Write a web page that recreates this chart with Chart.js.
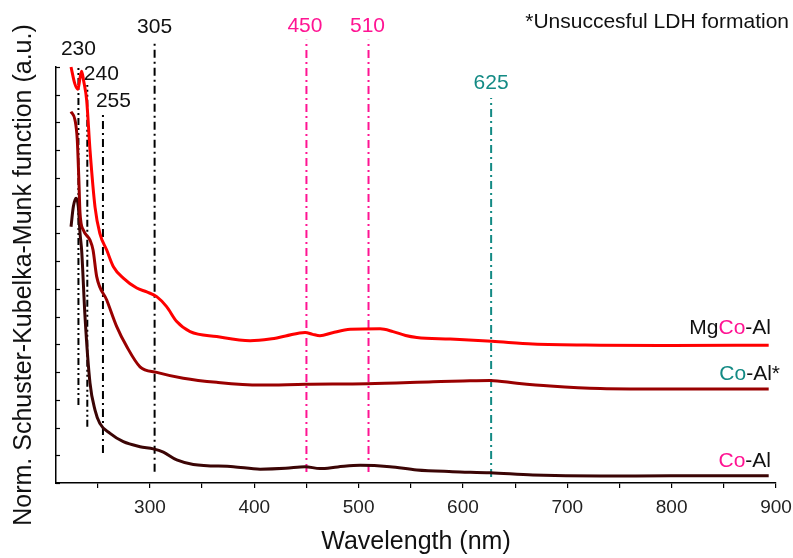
<!DOCTYPE html>
<html><head><meta charset="utf-8">
<script src="https://cdn.jsdelivr.net/npm/chart.js@4.4.1/dist/chart.umd.min.js"></script>
<style>html,body{margin:0;padding:0;background:#fff}#wrap{width:793px;height:558px}</style>
</head><body><div id="wrap"><canvas id="c" width="793" height="558"></canvas></div>
<script>
// ---- data ----
const wlMgCoAl = [224.4,228,231,233,234.6,236.5,239.4,242.6,247.4,252,258.6,265,274.5,287.4,297,306.5,316,325.7,338.5,364,396,415,430,448.7,456,463,475,492,520.6,533,545,555.8,587.8,627.7,667,731.6,800,893];
const valMgCoAl = [15.0,14.4,14.2,14.6,14.85,14.5,13.8,12.0,9.95,9.0,8.4,7.8,7.39,7.03,6.89,6.72,6.36,5.82,5.46,5.28,5.13,5.19,5.30,5.43,5.36,5.31,5.42,5.54,5.56,5.46,5.32,5.25,5.19,5.11,5.01,4.97,4.96,4.97];

const wlCoAlStar = [224.4,228.2,230.4,231.8,233,236.2,242.6,245.5,249,258.6,268.2,277.8,290.5,306.5,332,364,405.6,449,508,571.5,600,626,651.7,683.6,731.6,800,893];
const valCoAlStar = [13.39,13.09,12.37,11.05,9.74,9.12,8.76,8.4,7.44,6.6,5.64,4.92,4.19,3.99,3.78,3.63,3.53,3.56,3.58,3.65,3.68,3.70,3.60,3.50,3.41,3.39,3.39];

const wlCoAl = [224.4,226.6,229.2,231.4,233,234.6,237.8,242.6,247.4,252,261.8,274.5,290.5,303.3,312.9,325.7,341.6,380,405.6,430,448.7,463,480,501.5,530,555.8,590,626,667,731.6,800,893];
const valCoAl = [9.24,9.96,10.27,9.96,9.02,8.38,6.0,3.6,2.63,2.15,1.79,1.49,1.31,1.23,1.11,0.83,0.67,0.59,0.50,0.53,0.59,0.52,0.58,0.64,0.59,0.47,0.41,0.37,0.29,0.25,0.26,0.26];

const markerLabels = ['230','240','255','305','450','510','625'];
const markerX = [231.5,240,255,304.5,450,509.5,627];
const markerTop = [15.07,14.35,13.34,15.98,15.98,15.98,13.88];
const markerBottom = [2.81,2.03,1.08,0.41,0.40,0.40,0.22];
const markerLabelY = [15.65,14.75,13.75,16.44,16.47,16.47,14.42];

const xTickValues = [250,300,350,400,450,500,550,600,650,700,750,800,850,900];
const yTickValues = [0,1,2,3,4,5,6,7,8,9,10,11,12,13,14,15];

const seriesNames = ['MgCo-Al','Co-Al*','Co-Al'];
const seriesLabelY = [5.58,3.94,0.79];

// ---- styles ----
const FONT = "'Liberation Sans', Arial, sans-serif";
const PINK = '#ff1493', TEAL = '#138a84';
const curveColors = ['#ff0000','#990000','#3b0505'];
const markerColors = ['#000','#000','#000','#000',PINK,PINK,TEAL];
const markerDash = [[7,3,2,3,2,3],[7,3,2,3,2,3],[8,4,2,4],[8,4,2,4],[8,4,2,4],[8,4,2,4],[8,4,2,4]];
const markerLabelDx = [0,14,10.5,0,-1.5,-1,0];
const seriesLabelParts = [
  [['Mg','#111'],['Co',PINK],['-Al','#111']],
  [['Co',TEAL],['-Al*','#111']],
  [['Co',PINK],['-Al','#111']]
];
const seriesLabelRight = [771,780,771];

const toPts = (xs, ys) => xs.map((x,i)=>({x:x,y:ys[i]}));
const datasets = [];
[[wlMgCoAl,valMgCoAl],[wlCoAlStar,valCoAlStar],[wlCoAl,valCoAl]].forEach((s,i)=>{
  datasets.push({data:toPts(s[0],s[1]),borderColor:curveColors[i],borderWidth:3,pointRadius:0,
    cubicInterpolationMode:'monotone',tension:0.4,clip:false,fill:false});
});
markerX.forEach((x,i)=>{
  datasets.push({data:[{x:x,y:markerBottom[i]},{x:x,y:markerTop[i]}],borderColor:markerColors[i],
    borderWidth:2,borderDash:markerDash[i],pointRadius:0,clip:false,fill:false});
});

const annot = {
  id:'annot',
  afterDraw(chart){
    const ctx = chart.ctx, xs = chart.scales.x, ys = chart.scales.y;
    ctx.save();
    ctx.strokeStyle = '#000'; ctx.lineWidth = 1.2;
    yTickValues.forEach(v=>{
      const py = Math.round(ys.getPixelForValue(v))+0.5;
      ctx.beginPath(); ctx.moveTo(xs.left, py); ctx.lineTo(xs.left+4, py); ctx.stroke();
    });
    ctx.font = '21px ' + FONT; ctx.textAlign = 'center'; ctx.textBaseline = 'middle';
    markerLabels.forEach((t,i)=>{
      ctx.fillStyle = markerColors[i] === '#000' ? '#111' : markerColors[i];
      ctx.fillText(t, xs.getPixelForValue(markerX[i]) + markerLabelDx[i], ys.getPixelForValue(markerLabelY[i]));
    });
    ctx.textAlign = 'left';
    seriesLabelParts.forEach((parts,i)=>{
      const total = parts.reduce((a,p)=>a+ctx.measureText(p[0]).width,0);
      let x = seriesLabelRight[i] - total;
      const y = ys.getPixelForValue(seriesLabelY[i]);
      parts.forEach(p=>{ ctx.fillStyle = p[1]; ctx.fillText(p[0], x, y); x += ctx.measureText(p[0]).width; });
    });
    ctx.textAlign = 'right'; ctx.fillStyle = '#111';
    ctx.fillText('*Unsuccesful LDH formation', chart.width - 4, 22);
    ctx.restore();
  }
};

new Chart(document.getElementById('c'), {
  type:'line',
  data:{datasets:datasets},
  options:{
    responsive:false, animation:false, devicePixelRatio:1,
    layout:{padding:{left:0,right:17,top:67,bottom:0}},
    plugins:{legend:{display:false},tooltip:{enabled:false}},
    scales:{
      x:{type:'linear',min:210,max:900,
        afterBuildTicks:s=>{s.ticks = xTickValues.map(v=>({value:v}));},
        afterFit:s=>{s.height = 75; s.paddingLeft = 0; s.paddingRight = 0;},
        ticks:{autoSkip:false,maxRotation:0,padding:8,color:'#222',font:{size:19,family:FONT},
          callback:v=> v % 100 === 0 ? String(v) : ''},
        grid:{display:true,drawOnChartArea:false,drawTicks:true,tickLength:5,color:'#000',lineWidth:1.2},
        border:{display:true,color:'#000',width:1.5},
        title:{display:true,text:'Wavelength (nm)',color:'#111',font:{size:25,family:FONT},padding:{top:0,bottom:1}}
      },
      y:{type:'linear',min:0,max:15,
        afterFit:s=>{s.width = 56; s.paddingTop = 0; s.paddingBottom = 0;},
        ticks:{display:false,stepSize:1},
        grid:{display:false},
        border:{display:true,color:'#000',width:1.5},
        title:{display:true,text:'Norm. Schuster-Kubelka-Munk function (a.u.)',color:'#111',font:{size:25,family:FONT},padding:{top:9,bottom:0}}
      }
    }
  },
  plugins:[annot]
});
</script></body></html>
